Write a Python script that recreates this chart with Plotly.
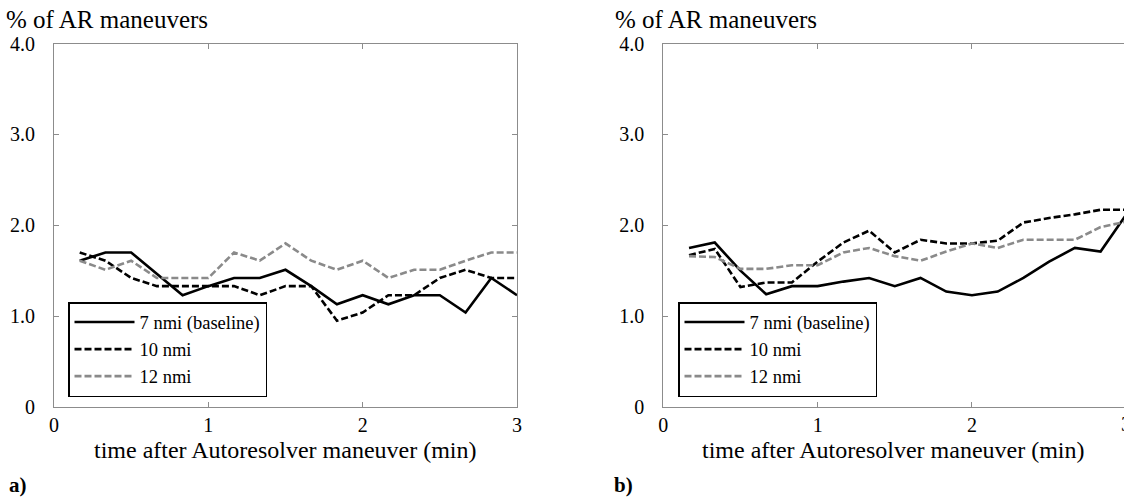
import plotly.graph_objects as go

# time after Autoresolver maneuver (min), 10-second steps
time_min = [1/6, 2/6, 3/6, 4/6, 5/6, 1.0, 7/6, 8/6, 9/6, 10/6, 11/6, 2.0,
            13/6, 14/6, 15/6, 16/6, 17/6, 3.0]

series_names = ["7 nmi (baseline)", "10 nmi", "12 nmi"]

# panel a)
a_7nmi = [1.61, 1.70, 1.70, 1.46, 1.23, 1.33, 1.42, 1.42, 1.51, 1.33, 1.13, 1.23,
          1.13, 1.23, 1.23, 1.04, 1.42, 1.23]
a_10nmi = [1.70, 1.61, 1.42, 1.33, 1.33, 1.33, 1.33, 1.23, 1.33, 1.33, 0.95, 1.04,
           1.23, 1.23, 1.42, 1.51, 1.42, 1.42]
a_12nmi = [1.61, 1.51, 1.61, 1.42, 1.42, 1.42, 1.70, 1.61, 1.80, 1.61, 1.51, 1.61,
           1.42, 1.51, 1.51, 1.61, 1.70, 1.70]

# panel b)
b_7nmi = [1.75, 1.81, 1.50, 1.24, 1.33, 1.33, 1.38, 1.42, 1.33, 1.42, 1.27, 1.23,
          1.27, 1.42, 1.60, 1.75, 1.71, 2.12]
b_10nmi = [1.67, 1.74, 1.32, 1.37, 1.37, 1.60, 1.81, 1.94, 1.70, 1.84, 1.80, 1.80,
           1.83, 2.03, 2.08, 2.12, 2.17, 2.17]
b_12nmi = [1.66, 1.65, 1.52, 1.52, 1.56, 1.56, 1.70, 1.75, 1.66, 1.61, 1.71, 1.80,
           1.75, 1.84, 1.84, 1.84, 1.98, 2.04]

y_tickvals = [0, 1, 2, 3, 4]
y_ticktext = ["0", "1.0", "2.0", "3.0", "4.0"]
x_tickvals = [0, 1, 2, 3]
x_ticktext = ["0", "1", "2", "3"]

W, H = 1124, 497
FONT = "Liberation Serif, DejaVu Serif, serif"
AXC = "#8c8c8c"

styles = [
    dict(color="black", width=2.6, dash="solid"),
    dict(color="black", width=2.6, dash="7px,3px"),
    dict(color="#8a8a8a", width=2.6, dash="7px,3px"),
]

fig = go.Figure()
for vals, name, st in zip([a_7nmi, a_10nmi, a_12nmi], series_names, styles):
    fig.add_trace(go.Scatter(x=time_min, y=vals, mode="lines", name=name,
                             line=st, xaxis="x", yaxis="y", legend="legend"))
for vals, name, st in zip([b_7nmi, b_10nmi, b_12nmi], series_names, styles):
    fig.add_trace(go.Scatter(x=time_min, y=vals, mode="lines", name=name,
                             line=st, xaxis="x2", yaxis="y2", legend="legend2"))

# geometry (pixels)
ax_left, ax_right = 54, 517
bx_left = 663.3
px_per_min = (ax_right - ax_left) / 3
y_top, y_bot = 43.5, 407
bx_range_end = (W - bx_left) / px_per_min

def px(x):
    return x / W

def py(y):
    return 1 - y / H

common_x = dict(showgrid=False, zeroline=False, showline=True, linecolor=AXC, linewidth=1,
                ticks="inside", ticklen=5, tickcolor=AXC, tickwidth=1,
                tickvals=x_tickvals, ticktext=x_ticktext, automargin=False,
                tickfont=dict(family=FONT, size=20, color="black"))
common_y = dict(showgrid=False, zeroline=False, showline=True, linecolor=AXC, linewidth=1,
                ticks="inside", ticklen=5, tickcolor=AXC, tickwidth=1,
                tickvals=y_tickvals, ticktext=y_ticktext, range=[0, 4], automargin=False,
                tickfont=dict(family=FONT, size=20, color="black"),
                ticklabelstandoff=14)

legend_common = dict(xanchor="left", yanchor="bottom",
                     bgcolor="white", bordercolor="black", borderwidth=1.5,
                     font=dict(family=FONT, size=18.5, color="black"),
                     itemwidth=60, tracegroupgap=0)

fig.update_layout(
    template="none",
    width=W, height=H, autosize=False,
    margin=dict(l=0, r=0, t=0, b=0, pad=0),
    paper_bgcolor="white", plot_bgcolor="white",
    font=dict(family=FONT, color="black"),
    xaxis=dict(domain=[px(ax_left), px(ax_right)], range=[0, 3], anchor="y",
               mirror="ticks", **common_x),
    yaxis=dict(domain=[py(y_bot), py(y_top)], anchor="x", mirror="ticks", **common_y),
    xaxis2=dict(domain=[px(bx_left), 1.0], range=[0, bx_range_end], anchor="y2",
                mirror="ticks", **common_x),
    yaxis2=dict(domain=[py(y_bot), py(y_top)], anchor="x2", mirror=False, **common_y),
    legend=dict(x=px(68), y=py(397), **legend_common),
    legend2=dict(x=px(678), y=py(397), **legend_common),
    showlegend=True,
)

xtitle = "time after Autoresolver maneuver (min)"
ytitle = "% of AR maneuvers"
ann = []
for xd, ytx in [("x domain", 4), ("x2 domain", 613)]:
    ann.append(dict(text=xtitle, xref=xd, x=0.5, yref="paper", y=py(450),
                    xanchor="center", yanchor="middle", showarrow=False,
                    font=dict(family=FONT, size=24, color="black")))
    ann.append(dict(text=ytitle, xref="paper", x=px(ytx), yref="paper", y=py(19),
                    xanchor="left", yanchor="middle", showarrow=False,
                    font=dict(family=FONT, size=25, color="black")))
ann.append(dict(text="<b>a)</b>", xref="paper", x=px(7), yref="paper", y=py(485),
                xanchor="left", yanchor="middle", showarrow=False,
                font=dict(family=FONT, size=21, color="black")))
ann.append(dict(text="<b>b)</b>", xref="paper", x=px(612), yref="paper", y=py(485),
                xanchor="left", yanchor="middle", showarrow=False,
                font=dict(family=FONT, size=21, color="black")))
# partially visible "3" tick label of panel b (cut by the page edge)
ann.append(dict(text=x_ticktext[3], xref="paper",
                x=px(bx_left + x_tickvals[3] * px_per_min), yref="paper", y=py(424),
                xanchor="center", yanchor="middle", showarrow=False,
                font=dict(family=FONT, size=20, color="black")))
fig.update_layout(annotations=ann)

fig.write_html("out.html", config={"displayModeBar": False},
               post_script="document.body.style.margin='0px';document.body.style.overflow='hidden';")
